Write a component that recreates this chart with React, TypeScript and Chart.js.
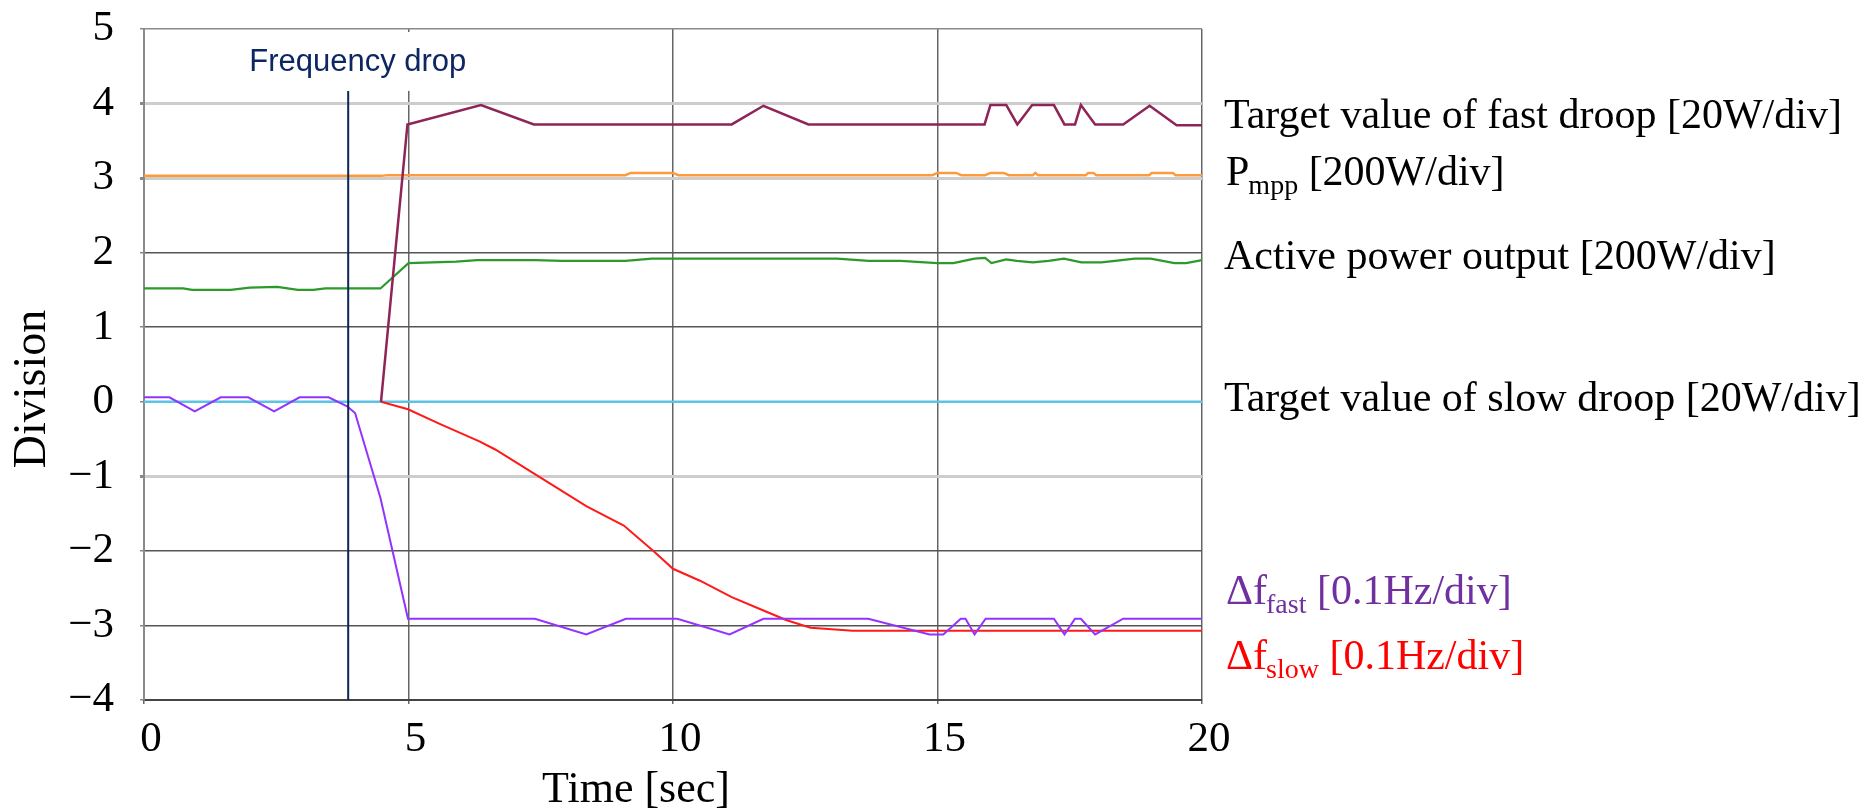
import React, { useEffect, useRef } from "react";
import { Chart, registerables } from "chart.js";

Chart.register(...registerables);

// Time axis [sec] and division axis
const X_MIN = 0;
const X_MAX = 20;
const X_STEP = 5;
const Y_MIN = -4;
const Y_MAX = 5;
const Y_STEP = 1;

// Target value of fast droop [20W/div]
const fastDroopT = [4.48, 4.98, 6.37, 7.37, 11.11, 11.71, 12.56, 15.89, 16.0, 16.3, 16.51, 16.79, 17.2, 17.4, 17.6, 17.71, 17.98, 18.51, 19.01, 19.52, 20];
const fastDroopV = [0, 3.72, 3.98, 3.72, 3.72, 3.97, 3.72, 3.72, 3.98, 3.98, 3.72, 3.98, 3.98, 3.72, 3.72, 3.98, 3.72, 3.72, 3.97, 3.71, 3.71];

// P_mpp [200W/div]
const pmppT = [0, 4.5, 4.6, 9.1, 9.2, 10.0, 10.1, 14.9, 15.0, 15.35, 15.45, 15.9, 16.0, 16.25, 16.35, 16.8, 16.85, 16.9, 17.8, 17.85, 17.95, 18.0, 19.0, 19.05, 19.45, 19.5, 20];
const pmppV = [3.03, 3.03, 3.04, 3.04, 3.07, 3.07, 3.04, 3.04, 3.07, 3.07, 3.04, 3.04, 3.07, 3.07, 3.04, 3.04, 3.07, 3.04, 3.04, 3.07, 3.07, 3.04, 3.04, 3.07, 3.07, 3.04, 3.04];

// Active power output [200W/div]
const activeT = [0, 0.74, 0.91, 1.64, 2.0, 2.52, 2.91, 3.2, 3.43, 4.47, 5.0, 5.9, 6.3, 7.4, 7.9, 9.1, 9.6, 13.1, 13.7, 14.3, 15.0, 15.3, 15.7, 15.9, 16.02, 16.3, 16.5, 16.8, 17.1, 17.39, 17.72, 18.1, 18.73, 19.03, 19.48, 19.7, 20];
const activeV = [1.52, 1.52, 1.5, 1.5, 1.53, 1.54, 1.5, 1.5, 1.52, 1.52, 1.86, 1.88, 1.9, 1.9, 1.89, 1.89, 1.92, 1.92, 1.89, 1.89, 1.86, 1.86, 1.92, 1.93, 1.86, 1.91, 1.89, 1.87, 1.89, 1.92, 1.87, 1.87, 1.92, 1.92, 1.86, 1.86, 1.9];

// Target value of slow droop [20W/div]
const slowDroopT = [0, 20];
const slowDroopV = [0, 0];

// Δf_fast [0.1Hz/div]
const fastFreqT = [0, 0.48, 0.96, 1.45, 1.97, 2.46, 2.94, 3.49, 3.84, 3.99, 4.47, 4.99, 7.39, 8.36, 9.11, 10.08, 11.07, 11.71, 13.69, 14.85, 15.11, 15.44, 15.53, 15.7, 15.91, 17.2, 17.4, 17.6, 17.71, 17.98, 18.51, 20];
const fastFreqV = [0.06, 0.06, -0.13, 0.06, 0.06, -0.13, 0.06, 0.06, -0.06, -0.15, -1.29, -2.91, -2.91, -3.12, -2.91, -2.91, -3.12, -2.91, -2.91, -3.12, -3.12, -2.91, -2.91, -3.12, -2.91, -2.91, -3.12, -2.91, -2.91, -3.12, -2.91, -2.91];

// Δf_slow [0.1Hz/div]
const slowFreqT = [4.48, 4.99, 5.6, 6.34, 6.64, 7.39, 8.36, 9.07, 9.63, 10.0, 10.51, 11.11, 11.71, 12.15, 12.6, 13.0, 13.4, 20];
const slowFreqV = [0, -0.1, -0.3, -0.53, -0.64, -0.97, -1.4, -1.66, -2.0, -2.24, -2.4, -2.62, -2.8, -2.93, -3.03, -3.05, -3.07, -3.07];

// Moment of the frequency drop
const dropT = [3.86, 3.86];
const dropV = [-4, 4.17];

const LIGHT_GRID_VALUES = [4, 3, -1];

const SERIF = "'Liberation Serif', 'Times New Roman', serif";
const SANS = "'Liberation Sans', Arial, sans-serif";

type Part = { text: string; sub?: boolean };

function drawRich(ctx: CanvasRenderingContext2D, x: number, y: number, parts: Part[], color: string) {
  ctx.fillStyle = color;
  ctx.textAlign = "left";
  ctx.textBaseline = "alphabetic";
  let cx = x;
  for (const p of parts) {
    if (p.sub) {
      ctx.font = `28px ${SERIF}`;
      ctx.fillText(p.text, cx - 1, y + 9);
      cx += ctx.measureText(p.text).width - 1;
    } else {
      ctx.font = `42px ${SERIF}`;
      ctx.fillText(p.text, cx, y);
      cx += ctx.measureText(p.text).width;
    }
  }
}

const pts = (t: number[], v: number[]) => t.map((x, i) => ({ x, y: v[i] }));

// Scale widths fixed so the plot area sits in a known frame
const fixScalePadding = (scale: any) => {
  scale.paddingTop = 0;
  scale.paddingBottom = 0;
  scale.paddingLeft = 0;
  scale.paddingRight = 0;
};

const textPlugin = {
  id: "chartTexts",
  beforeDatasetsDraw(chart: any) {
    const { ctx, scales } = chart;
    const xl = scales.x.getPixelForValue(dropT[0]);
    const topY = scales.y.getPixelForValue(dropV[1]);
    ctx.save();
    ctx.fillStyle = "#ffffff";
    ctx.fillRect(xl - 106, chart.chartArea.top + 3, 240, topY - chart.chartArea.top - 3);
    ctx.fillStyle = "#0d2763";
    ctx.font = `31px ${SANS}`;
    ctx.textAlign = "left";
    ctx.textBaseline = "alphabetic";
    ctx.fillText("Frequency drop", xl - 99, topY - 20);
    ctx.restore();
  },
  afterDraw(chart: any) {
    const { ctx } = chart;
    ctx.save();
    drawRich(ctx, 1224, 128, [{ text: "Target value of fast droop [20W/div]" }], "#000");
    drawRich(ctx, 1226, 185, [{ text: "P" }, { text: "mpp", sub: true }, { text: " [200W/div]" }], "#000");
    drawRich(ctx, 1224, 269, [{ text: "Active power output [200W/div]" }], "#000");
    drawRich(ctx, 1224, 411, [{ text: "Target value of slow droop [20W/div]" }], "#000");
    drawRich(ctx, 1226, 604, [{ text: "Δf" }, { text: "fast", sub: true }, { text: " [0.1Hz/div]" }], "#7030a0");
    drawRich(ctx, 1226, 669, [{ text: "Δf" }, { text: "slow", sub: true }, { text: " [0.1Hz/div]" }], "#ff0000");

    // axis titles
    ctx.fillStyle = "#000";
    ctx.font = `44px ${SERIF}`;
    ctx.textAlign = "center";
    ctx.textBaseline = "alphabetic";
    ctx.fillText("Time [sec]", 636, 802);
    ctx.translate(45, 389);
    ctx.rotate(-Math.PI / 2);
    ctx.font = `46px ${SERIF}`;
    ctx.fillText("Division", 0, 0);
    ctx.restore();
  },
};

export default function App() {
  const canvasRef = useRef<HTMLCanvasElement | null>(null);

  useEffect(() => {
    if (!canvasRef.current) return;
    const line = (label: string, t: number[], v: number[], color: string, width: number, order: number) => ({
      label,
      data: pts(t, v),
      showLine: true,
      borderColor: color,
      backgroundColor: color,
      borderWidth: width,
      pointRadius: 0,
      pointHoverRadius: 0,
      tension: 0,
      order,
    });

    const chart = new Chart(canvasRef.current, {
      type: "scatter",
      data: {
        datasets: [
          line("Target value of slow droop", slowDroopT, slowDroopV, "#5bc3e6", 2.5, 6),
          line("Pmpp", pmppT, pmppV, "#ff9a3c", 2.5, 5),
          line("Active power output", activeT, activeV, "#2b9a2b", 2.2, 4),
          line("Δf_slow", slowFreqT, slowFreqV, "#ff1a1a", 2, 3),
          line("Target value of fast droop", fastDroopT, fastDroopV, "#8e2457", 2.5, 2),
          line("Δf_fast", fastFreqT, fastFreqV, "#9233ff", 2, 1),
          line("Frequency drop", dropT, dropV, "#0d2456", 2, 0),
        ] as any,
      },
      options: {
        animation: false,
        responsive: true,
        maintainAspectRatio: false,
        layout: { padding: { top: 29, right: 668, left: 0, bottom: 0 } },
        plugins: {
          legend: { display: false },
          tooltip: { enabled: false },
        },
        events: [],
        scales: {
          x: {
            type: "linear",
            min: X_MIN,
            max: X_MAX,
            afterFit: (scale: any) => {
              scale.height = 110;
              fixScalePadding(scale);
            },
            ticks: {
              stepSize: X_STEP,
              color: "#000",
              font: { family: SERIF, size: 43 },
              padding: 10,
              labelOffset: 7,
              maxRotation: 0,
            },
            grid: {
              color: "#666666",
              lineWidth: 1.5,
              tickLength: 4,
              tickColor: "#666666",
            },
            border: { color: "#444444", width: 2 },
          },
          y: {
            type: "linear",
            min: Y_MIN,
            max: Y_MAX,
            afterFit: (scale: any) => {
              scale.width = 144;
              fixScalePadding(scale);
            },
            ticks: {
              stepSize: Y_STEP,
              color: "#000",
              font: { family: SERIF, size: 43 },
              padding: 26,
              callback: (v: any) => (Number(v) < 0 ? "\u2212" + Math.abs(Number(v)) : String(v)),
            },
            grid: {
              color: (c: any) => {
                const v = c.tick ? c.tick.value : 0;
                if (LIGHT_GRID_VALUES.includes(v)) return "#cdcdcd";
                if (v === Y_MAX) return "#8a8a8a";
                return "#555555";
              },
              lineWidth: (c: any) => {
                const v = c.tick ? c.tick.value : 0;
                return LIGHT_GRID_VALUES.includes(v) ? 3 : 1.5;
              },
              tickLength: 4,
              tickColor: "#888888",
            },
            border: { color: "#8a8a8a", width: 2 },
          },
        },
      },
      plugins: [textPlugin],
    } as any);

    return () => chart.destroy();
  }, []);

  return (
    <div style={{ position: "fixed", left: 0, top: 0, width: 1870, height: 810, background: "#fff" }}>
      <canvas ref={canvasRef} />
    </div>
  );
}
